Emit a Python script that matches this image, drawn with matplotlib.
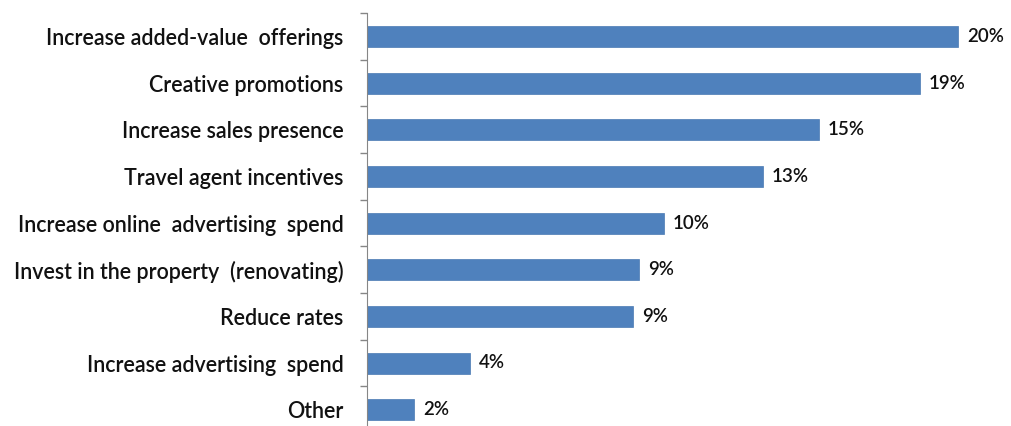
import matplotlib.pyplot as plt
import numpy as np

categories = [
    "Increase added-value  offerings",
    "Creative promotions",
    "Increase sales presence",
    "Travel agent incentives",
    "Increase online  advertising  spend",
    "Invest in the property  (renovating)",
    "Reduce rates",
    "Increase advertising  spend",
    "Other",
]
values = [20.0, 18.7, 15.3, 13.4, 10.05, 9.2, 9.0, 3.5, 1.6]
value_labels = ["20%", "19%", "15%", "13%", "10%", "9%", "9%", "4%", "2%"]

W, H = 1012, 426
fig = plt.figure(figsize=(W / 100, H / 100), dpi=100)
# axes: left edge at x=367px, top at 13px, bottom slightly below the figure
ax = fig.add_axes([367 / W, -7 / H, 1 - 367 / W, 420 / H])

y = np.arange(len(categories))
ax.barh(y, values, height=0.45, color="#4F81BD", edgecolor="#4A7AB3", linewidth=0.5)

for yi, v, lab in zip(y, values, value_labels):
    ax.text(v + 0.3, yi, lab, va="center", ha="left", fontsize=13.5,
            family="Lato", weight="semibold", color="#111111")

ax.set_xlim(0, 645 / 29.55)
ax.set_ylim(len(categories) - 0.5, -0.5)

ax.set_yticks(y)
ax.set_yticklabels(categories, family="Lato", fontsize=15.5, weight="semibold",
                   color="#111111")
ax.tick_params(axis="y", which="major", length=0, pad=17)
ax.set_yticks(np.arange(-0.5, len(categories) + 0.5, 1), minor=True)
ax.tick_params(axis="y", which="minor", length=5, color="#868686", width=1)
ax.set_xticks([])

for s in ["top", "right", "bottom"]:
    ax.spines[s].set_visible(False)
ax.spines["left"].set_color("#868686")

fig.savefig("out.png", dpi=100)
